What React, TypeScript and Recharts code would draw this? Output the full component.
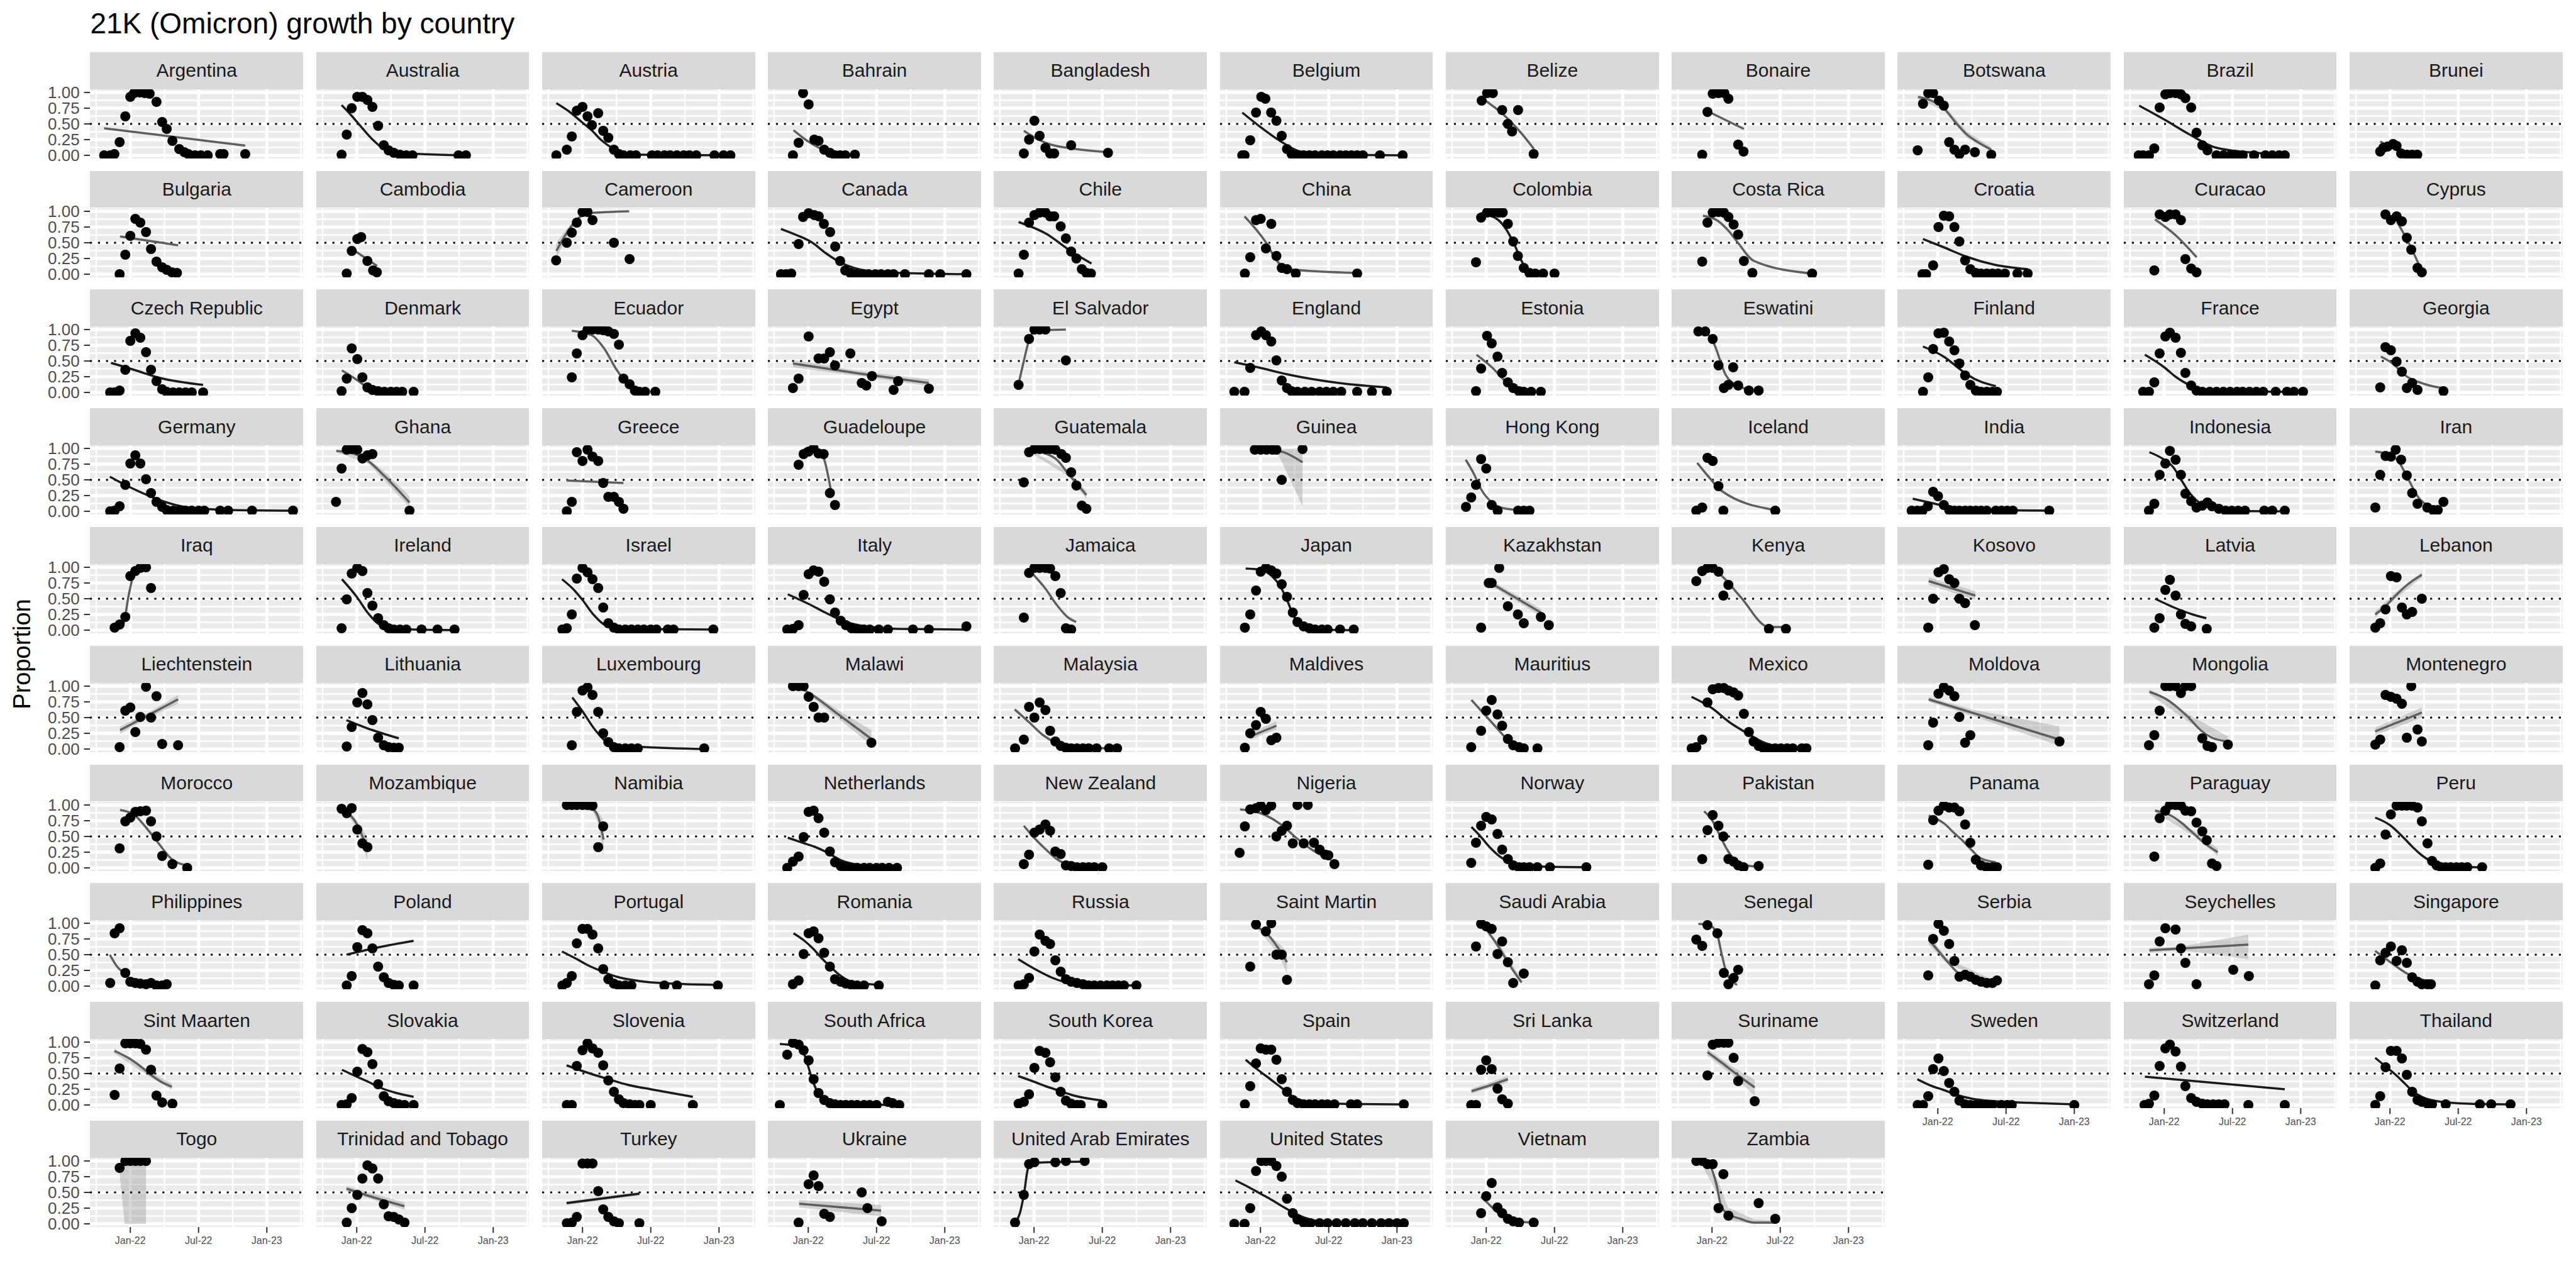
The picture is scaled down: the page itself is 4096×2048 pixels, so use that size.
import React from 'react';
import {
  ComposedChart,
  CartesianGrid,
  XAxis,
  YAxis,
  ReferenceLine,
  Scatter,
  Line,
  Area,
} from 'recharts';

/* ------------------------------------------------------------------ */
/*                               DATA                                 */
/* ------------------------------------------------------------------ */

// facet order, 11 per row
const countries = [
  'Argentina', 'Australia', 'Austria', 'Bahrain', 'Bangladesh', 'Belgium', 'Belize', 'Bonaire', 'Botswana', 'Brazil', 'Brunei',
  'Bulgaria', 'Cambodia', 'Cameroon', 'Canada', 'Chile', 'China', 'Colombia', 'Costa Rica', 'Croatia', 'Curacao', 'Cyprus',
  'Czech Republic', 'Denmark', 'Ecuador', 'Egypt', 'El Salvador', 'England', 'Estonia', 'Eswatini', 'Finland', 'France', 'Georgia',
  'Germany', 'Ghana', 'Greece', 'Guadeloupe', 'Guatemala', 'Guinea', 'Hong Kong', 'Iceland', 'India', 'Indonesia', 'Iran',
  'Iraq', 'Ireland', 'Israel', 'Italy', 'Jamaica', 'Japan', 'Kazakhstan', 'Kenya', 'Kosovo', 'Latvia', 'Lebanon',
  'Liechtenstein', 'Lithuania', 'Luxembourg', 'Malawi', 'Malaysia', 'Maldives', 'Mauritius', 'Mexico', 'Moldova', 'Mongolia', 'Montenegro',
  'Morocco', 'Mozambique', 'Namibia', 'Netherlands', 'New Zealand', 'Nigeria', 'Norway', 'Pakistan', 'Panama', 'Paraguay', 'Peru',
  'Philippines', 'Poland', 'Portugal', 'Romania', 'Russia', 'Saint Martin', 'Saudi Arabia', 'Senegal', 'Serbia', 'Seychelles', 'Singapore',
  'Sint Maarten', 'Slovakia', 'Slovenia', 'South Africa', 'South Korea', 'Spain', 'Sri Lanka', 'Suriname', 'Sweden', 'Switzerland', 'Thailand',
  'Togo', 'Trinidad and Tobago', 'Turkey', 'Ukraine', 'United Arab Emirates', 'United States', 'Vietnam', 'Zambia',
];

// x axis is months since 1 Jan 2022
const xTickValues = [0, 6, 12];
const xTickLabels = ['Jan-22', 'Jul-22', 'Jan-23'];
const xMinorValues = [-3, 3, 9, 15];
const yTickValues = [0, 0.25, 0.5, 0.75, 1];
const yMinorValues = [0.125, 0.375, 0.625, 0.875];

// observed proportions, flattened [month, proportion, month, proportion, ...]
const observed: number[][] = [
  [-2.3,0,-1.77,0,-1.4,0.02,-0.94,0.21,-0.44,0.62,0,0.93,0.33,0.99,0.83,1,1.27,0.99,1.7,0.98,2.3,0.85,2.8,0.53,3.2,0.42,3.7,0.23,4.3,0.1,4.75,0.05,5.1,0.02,5.7,0,6.2,0,6.8,0,7.9,0.02,8.2,0.02,10.1,0.02], // Argentina
  [-1.33,0.01,-0.88,0.33,-0.44,0.75,0.05,0.93,0.5,0.93,0.94,0.88,1.38,0.77,1.88,0.47,2.38,0.16,2.8,0.08,3.26,0.04,3.8,0.01,4.36,0,4.9,0,8.95,0,9.6,0], // Australia
  [-2.3,0,-1.38,0.09,-0.94,0.3,-0.5,0.71,0,0.77,0.44,0.62,0.83,0.48,1.38,0.67,1.82,0.39,2.27,0.28,2.76,0.09,3.2,0.02,3.6,0,4.2,0,4.7,0,6.1,0,6.6,0,7.2,0,7.7,0,8.3,0,8.9,0,9.4,0,10,0,11.6,0,12.4,0,13,0], // Austria
  [-1.35,0,-0.85,0.2,-0.46,0.99,0.03,0.81,0.53,0.25,0.9,0.23,1.4,0.09,1.9,0.04,2.35,0,2.8,0,3.25,0,4.1,0.01], // Bahrain
  [-0.9,0.03,-0.44,0.25,0.03,0.55,0.49,0.31,1,0.12,1.41,0.03,1.77,0.03,3.26,0.16,6.5,0.04], // Bangladesh
  [-1.6,0,-1.4,0,-0.9,0.24,-0.39,0.68,0.07,0.93,0.43,0.9,0.94,0.68,1.4,0.55,1.87,0.31,2.33,0.1,2.74,0.02,3.25,0,3.8,0,4.3,0,4.8,0,5.4,0,5.9,0,6.4,0,7,0,7.5,0,8,0,8.5,0,9,0,10.5,0,12.5,0], // Belgium
  [-0.4,0.87,0.07,0.99,0.58,0.99,1.4,0.72,2.8,0.72,1.9,0.5,2.27,0.38,4.17,0.02], // Belize
  [-0.86,0.01,-0.4,0.69,0.06,0.98,0.57,0.99,1.08,0.99,1.44,0.9,2.3,0.17,2.77,0.06], // Bonaire
  [-1.77,0.08,-1.3,0.82,-0.84,0.99,-0.41,0.99,0.1,0.87,0.53,0.79,1,0.21,1.46,0.09,1.9,0.02,2.4,0.09,3.26,0.05,4.7,0.01], // Botswana
  [-2.24,0,-1.85,0,-1.34,0,-0.87,0.11,-0.4,0.76,0.1,0.97,0.5,0.99,1,0.99,1.47,0.97,1.86,0.91,2.37,0.76,2.84,0.36,3.35,0.16,3.8,0.08,4.6,0,5.2,0,5.8,0,6.4,0,6.9,0,7.9,0,8.9,0,9.5,0,10.1,0,10.6,0], // Brazil
  [-0.86,0.06,-0.58,0.12,-0.2,0.14,0.27,0.18,0.58,0.15,0.98,0.03,1.5,0.01,1.95,0.01,2.4,0.01], // Brunei
  [-0.94,0,-0.44,0.31,0,0.61,0.44,0.88,0.88,0.82,1.38,0.67,1.82,0.4,2.3,0.2,2.8,0.11,3.2,0.07,3.65,0.03,4.1,0.02], // Bulgaria
  [-0.88,0.01,-0.44,0.37,0.05,0.56,0.39,0.59,0.94,0.21,1.44,0.06,1.77,0.03], // Cambodia
  [-2.32,0.22,-1.38,0.5,-0.94,0.66,-0.5,0.82,0,0.99,0.44,0.99,0.88,0.86,2.76,0.5,4.14,0.24], // Cameroon
  [-2.4,0,-1.95,0,-1.5,0.01,-0.85,0.48,-0.46,0.91,0.03,0.97,0.53,0.94,0.92,0.92,1.37,0.8,1.92,0.67,2.37,0.44,2.8,0.21,3.25,0.06,3.7,0.02,4.2,0,4.8,0,5.3,0,5.9,0,6.4,0,7,0,7.5,0,8.5,0,10.6,0,11.6,0,13.9,0], // Canada
  [-1.36,0.01,-0.9,0.31,-0.44,0.82,0.03,0.94,0.49,0.98,1,0.98,1.41,0.92,1.77,0.92,2.34,0.76,2.8,0.57,3.26,0.36,3.72,0.25,4.2,0.08,4.6,0.02,5,0.01], // Chile
  [-1.37,0.01,-0.9,0.27,-0.39,0.86,0.02,0.88,0.95,0.8,0.48,0.41,1.4,0.29,1.87,0.1,2.33,0.08,3.1,0.01,8.5,0.01], // China
  [-0.9,0.19,-0.45,0.9,0.07,0.98,0.58,0.98,1.1,0.98,1.45,0.98,1.9,0.8,2.37,0.52,2.78,0.29,3.3,0.1,3.8,0.02,4.3,0.01,5,0.01,6,0.01], // Colombia
  [-0.86,0.2,-0.4,0.82,0.06,0.98,0.57,0.99,1.04,0.98,1.44,0.91,1.9,0.79,2.3,0.63,2.8,0.21,3.55,0.02,8.8,0.01], // Costa Rica
  [-1.35,0,-1.03,0,-0.41,0.14,0.06,0.75,0.53,0.93,1,0.92,1.46,0.75,1.9,0.52,2.4,0.22,2.86,0.08,3.34,0.02,3.8,0.01,4.3,0.01,4.8,0.01,5.3,0.01,5.9,0.01,7,0.01,7.9,0.01], // Croatia
  [-0.87,0.06,-0.4,0.95,0.1,0.91,0.5,0.95,1,0.95,1.47,0.86,1.86,0.24,2.37,0.09,2.84,0.03], // Curacao
  [-0.4,0.95,0.08,0.86,0.58,0.92,1.05,0.84,1.48,0.58,1.87,0.39,2.42,0.1,2.8,0.03], // Cyprus
  [-1.77,0,-1.38,0,-0.94,0.03,-0.44,0.36,0,0.82,0.44,0.94,0.88,0.87,1.38,0.64,1.82,0.36,2.3,0.18,2.8,0.05,3.2,0.01,3.76,0,4.3,0,4.86,0,5.4,0,6.4,0], // Czech Republic
  [-1.33,0.02,-0.88,0.22,-0.44,0.7,0.05,0.53,0.5,0.24,0.94,0.08,1.38,0.04,1.88,0.02,2.43,0.01,3,0.01,3.5,0.01,4,0.01,5,0.01], // Denmark
  [-0.94,0.24,-0.5,0.62,0,0.91,0.44,1,0.88,1,1.38,1,1.82,0.99,2.27,0.97,2.76,0.93,3.2,0.76,3.6,0.22,4.14,0.13,4.6,0.03,5,0.01,5.5,0.01,6.4,0.01], // Ecuador
  [-1.35,0.07,-0.85,0.22,0.03,0.89,0.9,0.54,1.4,0.54,1.9,0.64,2.35,0.43,3.7,0.62,4.7,0.15,5.1,0.11,5.6,0.26,7.5,0.04,7.9,0.18,10.6,0.06], // Egypt
  [-1.36,0.12,-0.44,0.85,0.03,1,0.49,1,1,1,2.8,0.51], // El Salvador
  [-2.3,0.01,-1.4,0.01,-0.9,0.39,-0.39,0.91,0.07,0.97,0.48,0.91,0.95,0.81,1.4,0.51,1.87,0.19,2.33,0.07,2.74,0.02,3.25,0.01,3.9,0.01,4.5,0.01,5.2,0.01,5.8,0.01,6.4,0.01,7.1,0.01,8.5,0.01,9.8,0.01,11.1,0.01], // England
  [-0.9,0.02,-0.45,0.38,0.07,0.9,0.48,0.78,0.99,0.57,1.4,0.31,1.9,0.16,2.37,0.07,2.88,0.02,3.3,0.01,3.95,0.01,4.8,0.01], // Estonia
  [-1.2,0.97,-0.6,0.97,0.06,0.85,0.57,0.43,1.86,0.4,1.04,0.07,1.44,0.12,2.3,0.11,3.24,0.03,4.1,0.03], // Eswatini
  [-1.3,0.01,-0.84,0.24,-0.41,0.69,0.06,0.94,0.53,0.95,1,0.81,1.46,0.67,1.9,0.46,2.4,0.27,2.86,0.12,3.34,0.03,3.8,0.01,4.3,0.01,4.8,0.01,5.2,0.01], // Finland
  [-1.85,0.01,-1.34,0.01,-0.87,0.16,-0.4,0.62,0.1,0.89,0.5,0.95,1,0.87,1.47,0.63,1.86,0.31,2.37,0.11,2.84,0.03,3.35,0.01,4,0.01,4.6,0.01,5.2,0.01,5.8,0.01,6.4,0.01,6.9,0.01,7.5,0.01,8.1,0.01,8.7,0.01,9.8,0.01,10.8,0.01,11.4,0.01,12.2,0.01], // France
  [-0.86,0.08,-0.4,0.72,0.08,0.67,0.58,0.49,1.05,0.33,1.48,0.07,1.95,0.15,2.42,0.04,4.7,0.02], // Georgia
  [-1.77,0,-1.38,0.01,-0.94,0.08,-0.44,0.42,0,0.76,0.44,0.89,0.88,0.76,1.38,0.51,1.82,0.29,2.3,0.15,2.8,0.07,3.2,0.02,3.76,0.01,4.3,0.01,4.86,0.01,5.4,0.01,6,0.01,6.5,0.01,7.9,0.01,8.6,0.01,10.7,0.01,14.3,0.01], // Germany
  [-1.82,0.15,-1.33,0.68,-0.88,0.98,-0.44,0.99,0.05,0.98,0.5,0.84,0.94,0.89,1.38,0.91,4.64,0.01], // Ghana
  [-1.38,0,-0.94,0.15,-0.5,0.94,0,0.8,0.44,0.98,0.88,0.87,1.38,0.8,1.82,0.45,2.27,0.23,2.76,0.23,3.2,0.15,3.6,0.04], // Greece
  [-0.85,0.74,-0.41,0.91,0.03,0.95,0.47,1,0.9,0.92,1.35,0.91,1.9,0.29,2.35,0.1], // Guadeloupe
  [-0.9,0.46,-0.44,0.94,0.03,0.99,0.49,0.99,1,0.99,1.41,0.99,1.87,0.98,2.4,0.91,2.8,0.85,3.26,0.62,3.72,0.41,4.2,0.09,4.6,0.04], // Guatemala
  [-0.5,0.98,0.02,0.98,0.53,0.98,1.05,0.98,1.4,0.98,1.87,0.5,3.7,0.99], // Guinea
  [-1.78,0.07,-1.32,0.22,-0.9,0.42,-0.45,0.83,0,0.68,0.48,0.1,1,0.01,2.8,0.01,3.3,0.01,3.8,0.01], // Hong Kong
  [-1.38,0.01,-0.86,0.06,-0.4,0.85,0.06,0.8,0.57,0.4,1,0.01,5.56,0.01], // Iceland
  [-2.3,0.01,-1.8,0.01,-1.35,0.01,-0.88,0.08,-0.41,0.31,0.02,0.24,0.53,0.1,1,0.02,1.46,0.01,1.9,0.01,2.4,0.01,2.86,0.01,3.34,0.01,3.8,0.01,4.3,0.01,5.1,0.01,5.6,0.01,6.1,0.01,6.6,0.01,9.8,0.01], // India
  [-1.34,0.01,-0.87,0.12,-0.4,0.58,0.1,0.76,0.5,0.96,1,0.82,1.47,0.58,1.86,0.28,2.37,0.16,2.84,0.06,3.35,0.09,3.8,0.14,4.2,0.08,4.8,0.04,5.4,0.01,5.95,0.01,6.5,0.01,7.1,0.01,8.8,0.01,9.5,0.01,10.6,0.01], // Indonesia
  [-1.29,0.06,-0.86,0.58,-0.39,0.88,0.08,0.87,0.5,0.98,0.98,0.82,1.48,0.57,1.95,0.29,2.42,0.12,3.28,0.06,3.8,0.02,4.2,0.02,4.7,0.15], // Iran
  [-1.38,0.04,-0.94,0.09,-0.44,0.21,0,0.86,0.44,0.94,0.88,0.99,1.38,1,1.82,0.67], // Iraq
  [-1.33,0.03,-0.88,0.49,-0.44,0.9,0.05,0.99,0.5,0.94,0.94,0.59,1.38,0.39,1.88,0.19,2.38,0.08,2.8,0.03,3.26,0.01,3.8,0.01,4.36,0.01,5.7,0.01,7.1,0.01,8.6,0.01], // Ireland
  [-1.77,0.01,-1.38,0.03,-0.94,0.25,-0.5,0.82,0,0.99,0.44,0.92,0.88,0.81,1.38,0.67,1.82,0.36,2.27,0.11,2.76,0.04,3.2,0.01,3.76,0.01,4.3,0.01,4.86,0.01,5.4,0.01,6,0.01,6.5,0.01,7.5,0.01,8,0.01,11.5,0.01], // Israel
  [-1.85,0.01,-1.35,0.02,-0.85,0.08,-0.41,0.56,0.03,0.89,0.47,0.95,0.9,0.93,1.4,0.77,1.9,0.49,2.35,0.28,2.85,0.15,3.3,0.08,3.8,0.03,4.3,0.01,4.9,0.01,5.4,0.01,6.2,0.01,7,0.01,9.2,0.01,10.6,0.01,13.9,0.06], // Italy
  [-0.9,0.2,-0.44,0.91,0.03,0.99,0.49,0.99,1,0.99,1.41,0.98,1.87,0.86,2.34,0.59,2.8,0.03,3.26,0.01], // Jamaica
  [-1.37,0.04,-0.9,0.25,-0.39,0.63,0.02,0.93,0.48,0.99,0.95,0.95,1.4,0.9,1.87,0.73,2.33,0.53,2.84,0.28,3.25,0.13,3.8,0.06,4.3,0.03,4.8,0.01,5.4,0.01,5.9,0.01,7,0.01,8.2,0.01], // Japan
  [-0.45,0.04,0.22,0.75,0.48,0.75,1.14,0.99,1.9,0.38,2.78,0.25,3.3,0.11,4.8,0.21,5.5,0.08], // Kazakhstan
  [-1.38,0.78,-0.86,0.94,-0.4,0.99,0.06,0.99,0.57,0.93,1,0.55,1.44,0.72,5,0.02,6.5,0.02], // Kenya
  [-0.84,0.04,-0.41,0.5,0.06,0.92,0.53,0.97,1,0.81,1.46,0.75,1.9,0.5,2.4,0.43,3.26,0.08], // Kosovo
  [-0.87,0.04,-0.4,0.19,0.1,0.64,0.5,0.8,1,0.55,1.47,0.25,1.86,0.1,2.37,0.06,3.74,0.02], // Latvia
  [-1.29,0.04,-0.86,0.11,-0.39,0.33,0.08,0.86,0.58,0.84,1.05,0.36,1.48,0.25,1.95,0.29,2.8,0.5], // Lebanon
  [-0.94,0.03,-0.44,0.61,0,0.66,0.44,0.27,0.88,0.51,1.38,0.99,1.82,0.5,2.3,0.84,2.8,0.08,4.2,0.06], // Liechtenstein
  [-0.88,0.04,-0.44,0.35,0.05,0.74,0.5,0.89,0.94,0.71,1.38,0.46,1.88,0.18,2.38,0.06,2.8,0.03,3.26,0.02,3.7,0.02], // Lithuania
  [-0.94,0.06,-0.5,0.59,0,0.93,0.44,0.98,0.88,0.86,1.38,0.59,1.82,0.25,2.27,0.11,2.76,0.03,3.2,0.01,3.76,0.01,4.3,0.01,4.86,0.01,10.7,0.01], // Luxembourg
  [-1.35,1,-0.85,1,-0.41,1,0.03,0.83,0.47,0.67,0.9,0.5,1.4,0.5,5.55,0.1], // Malawi
  [-1.67,0.01,-0.9,0.15,-0.44,0.67,0.03,0.5,0.49,0.74,1,0.62,1.41,0.29,1.87,0.12,2.34,0.05,2.8,0.02,3.26,0.01,3.77,0.01,4.3,0.01,4.8,0.01,5.5,0.01,6.6,0.01,7.3,0.01], // Malaysia
  [-1.37,0.02,-0.9,0.25,-0.39,0.38,0.02,0.59,0.48,0.48,0.95,0.14,1.4,0.18], // Maldives
  [-1.32,0.03,-0.45,0.29,0,0.61,0.48,0.78,0.99,0.55,1.4,0.37,1.9,0.16,2.37,0.06,2.88,0.03,3.3,0.01,4.5,0.01], // Mauritius
  [-1.79,0.01,-1.38,0.03,-0.86,0.15,-0.4,0.74,0.06,0.95,0.57,0.97,1.04,0.97,1.44,0.93,1.9,0.9,2.3,0.85,2.8,0.56,3.24,0.27,3.65,0.12,4.1,0.05,4.5,0.02,5,0.01,5.55,0.01,6.06,0.01,6.6,0.01,7.1,0.01,7.9,0.01,8.3,0.01], // Mexico
  [-0.84,0.06,-0.41,0.42,0.06,0.88,0.53,0.98,1,0.93,1.46,0.84,1.9,0.51,2.4,0.1,2.86,0.22,10.7,0.12], // Moldova
  [-1.34,0.06,-0.87,0.22,-0.4,0.61,0.1,1,0.5,1,1,1,1.47,0.89,1.86,1,2.37,1,3.35,0.17,3.8,0.05,4.2,0.03,5.6,0.07], // Mongolia
  [-1.29,0.07,-0.86,0.15,-0.39,0.86,0.08,0.83,0.58,0.8,1.05,0.72,1.48,0.18,1.87,1,2.42,0.31,2.8,0.12], // Montenegro
  [-0.94,0.31,-0.44,0.74,0,0.8,0.44,0.89,0.88,0.9,1.38,0.91,1.82,0.74,2.3,0.5,2.8,0.19,3.7,0.06,5,0], // Morocco
  [-1.33,0.94,-0.88,0.87,-0.44,0.95,0.05,0.61,0.5,0.39,0.94,0.33], // Mozambique
  [-1.38,1,-0.94,1,-0.5,1,0,1,0.44,1,0.88,0.99,1.82,0.66,1.38,0.33], // Namibia
  [-1.85,0,-1.35,0.1,-0.85,0.18,-0.41,0.49,0.03,0.89,0.47,0.91,0.9,0.79,1.4,0.56,1.9,0.26,2.35,0.09,2.85,0.03,3.3,0.01,3.8,0,4.3,0,4.9,0,5.4,0,6,0,6.5,0,7.1,0,7.8,0], // Netherlands
  [-0.9,0.06,-0.44,0.21,0.03,0.56,0.49,0.61,1,0.69,1.41,0.59,1.87,0.26,2.34,0.22,2.8,0.04,3.26,0.03,3.77,0.01,4.3,0.01,4.8,0.01,5.3,0.01,6,0.01], // New Zealand
  [-1.83,0.24,-1.37,0.66,-0.9,0.93,-0.39,0.95,0.02,0.99,0.48,0.92,0.95,0.99,1.4,0.5,1.87,0.59,2.33,0.67,2.84,0.39,3.25,1,3.8,0.39,4.16,1,4.7,0.4,5.2,0.29,5.7,0.21,5.97,0.2,6.5,0.06], // Nigeria
  [-1.32,0.08,-0.9,0.4,-0.45,0.67,0,0.81,0.48,0.77,0.99,0.54,1.4,0.29,1.9,0.14,2.37,0.04,2.88,0.01,3.3,0.01,3.8,0.01,4.5,0.01,5.6,0.01,8.8,0.01], // Norway
  [-0.86,0.14,-0.4,0.6,0.06,0.84,0.57,0.67,1,0.5,1.44,0.14,1.9,0.1,2.3,0.04,2.77,0.01,4.1,0.03], // Pakistan
  [-0.84,0.05,-0.41,0.76,0.06,0.91,0.53,0.99,1,0.96,1.46,0.96,1.9,0.9,2.4,0.69,2.86,0.4,3.34,0.13,3.8,0.04,4.3,0.01,4.8,0.01,5.2,0.01], // Panama
  [-0.87,0.18,-0.4,0.79,0.1,0.91,0.5,1,1,1,1.47,0.99,1.86,0.91,2.37,0.9,2.84,0.72,3.35,0.58,3.74,0.44,4.2,0.07,4.6,0.03], // Paraguay
  [-1.29,0,-0.86,0.07,-0.39,0.53,0.08,0.85,0.58,0.99,1.05,0.99,1.48,0.99,1.95,0.99,2.42,0.96,2.8,0.74,3.3,0.39,3.7,0.11,4.1,0.04,4.5,0.01,4.9,0.01,5.35,0.01,5.85,0.01,6.3,0.01,6.8,0.01,8.1,0.01], // Peru
  [-1.77,0.05,-1.38,0.84,-0.94,0.92,-0.44,0.21,0,0.07,0.44,0.05,0.88,0.04,1.38,0.03,1.82,0.05,2.3,0.01,2.8,0.01,3.2,0.03], // Philippines
  [-0.88,0.01,-0.44,0.16,0.05,0.62,0.5,0.89,0.94,0.84,1.38,0.6,1.88,0.31,2.38,0.14,2.8,0.05,3.26,0.02,3.7,0.01,5,0.01], // Poland
  [-1.77,0.01,-1.38,0.05,-0.94,0.16,-0.5,0.68,0,0.91,0.44,0.91,0.88,0.82,1.38,0.6,1.82,0.27,2.27,0.11,2.76,0.04,3.2,0.01,3.76,0.01,4.3,0.01,7.2,0.01,8.3,0.01,11.9,0.01], // Portugal
  [-1.35,0.03,-0.85,0.09,-0.41,0.51,0.03,0.84,0.47,0.87,0.9,0.76,1.4,0.53,1.9,0.31,2.35,0.11,2.85,0.07,3.3,0.04,3.8,0.02,4.3,0.01,4.9,0.01,6.2,0.01], // Romania
  [-1.36,0.01,-0.9,0.03,-0.44,0.13,0.03,0.55,0.49,0.82,1,0.72,1.41,0.67,1.87,0.41,2.34,0.23,2.8,0.11,3.26,0.07,3.77,0.05,4.3,0.03,4.8,0.01,5.3,0.01,5.85,0.01,6.4,0.01,6.9,0.01,7.4,0.01,7.9,0.01,9,0.01], // Russia
  [-0.9,0.31,-0.39,0.98,0.48,0.87,0.95,1,1.4,0.5,1.87,0.5,2.33,0.1], // Saint Martin
  [-0.9,0.63,-0.45,0.99,0,0.95,0.48,0.91,1.4,0.71,0.99,0.51,1.9,0.38,3.3,0.2,2.37,0.05], // Saudi Arabia
  [-1.38,0.74,-0.86,0.64,-0.4,0.97,0.47,0.84,1.04,0.21,1.44,0.03,1.9,0.13,2.3,0.26], // Senegal
  [-0.84,0.17,-0.41,0.75,0.06,0.99,0.53,0.88,1,0.67,1.46,0.4,1.9,0.15,2.4,0.18,2.86,0.15,3.34,0.1,3.8,0.07,4.3,0.05,4.8,0.05,5.2,0.09], // Serbia
  [-1.34,0.03,-0.87,0.17,-0.4,0.71,0.1,0.92,1,0.9,1.47,0.6,1.86,0.37,2.84,0.03,6.07,0.26,7.44,0.16], // Seychelles
  [-1.29,0.01,-0.86,0.41,-0.39,0.53,0.08,0.63,0.58,0.4,1.05,0.57,1.48,0.37,1.95,0.14,2.42,0.07,2.8,0.03,3.3,0.03,3.6,0.03], // Singapore
  [-1.38,0.16,-0.94,0.58,-0.44,0.98,0,0.98,0.44,0.98,0.88,0.97,1.38,0.88,1.82,0.56,2.3,0.15,2.8,0.04,3.7,0.02], // Sint Maarten
  [-1.33,0,-0.88,0.01,-0.44,0.11,0.05,0.53,0.5,0.89,0.94,0.84,1.38,0.65,1.88,0.33,2.38,0.14,2.8,0.06,3.26,0.03,3.7,0.01,4.2,0,5,0], // Slovakia
  [-1.38,0,-0.94,0,-0.5,0.62,0,0.87,0.44,0.98,0.88,0.9,1.38,0.83,1.82,0.63,2.27,0.39,2.76,0.21,3.2,0.09,3.6,0.03,4.14,0.01,4.6,0,5,0,6,0,9.7,0], // Slovenia
  [-2.5,0,-1.85,0.8,-1.35,0.99,-0.85,0.96,-0.41,0.87,0.03,0.71,0.47,0.41,0.9,0.19,1.4,0.08,1.9,0.03,2.35,0.01,2.85,0,3.3,0,3.8,0,4.3,0,4.9,0,5.4,0,6,0,7,0.05,7.4,0.03,8,0], // South Africa
  [-1.36,0.02,-0.9,0.05,-0.44,0.17,0.03,0.59,0.49,0.86,1,0.83,1.41,0.68,1.87,0.44,2.34,0.21,2.8,0.07,3.26,0.02,3.77,0,4.1,0,6,0], // South Korea
  [-1.37,0.01,-0.9,0.3,-0.39,0.66,0.02,0.9,0.48,0.88,0.95,0.88,1.4,0.72,1.87,0.41,2.33,0.21,2.84,0.08,3.25,0.03,3.8,0.01,4.3,0.01,4.8,0.01,5.4,0.01,5.9,0.01,6.5,0.01,7.95,0.01,8.5,0.01,12.6,0.01], // Spain
  [-1.32,0,-0.9,0,-0.45,0.56,0,0.71,0.48,0.57,0.99,0.26,1.4,0.09,1.9,0.02], // Sri Lanka
  [-0.4,0.47,0.06,0.96,0.57,0.99,1.04,0.99,1.44,0.99,1.9,0.75,2.3,0.38,3.75,0.06], // Suriname
  [-1.77,0,-1.3,0,-0.84,0.14,-0.41,0.57,0.06,0.74,0.53,0.54,1,0.35,1.46,0.21,1.9,0.07,2.4,0.01,2.86,0,3.34,0,3.8,0,4.3,0,4.8,0,5.6,0,6.1,0,6.5,0,12,0], // Sweden
  [-1.73,0,-1.34,0.02,-0.87,0.15,-0.4,0.62,0.1,0.9,0.5,0.96,1,0.85,1.47,0.61,1.86,0.3,2.37,0.11,2.84,0.05,3.35,0.02,3.8,0.01,4.3,0.01,4.8,0.01,5.3,0.01,7.4,0,10.6,0], // Switzerland
  [-1.29,0,-0.86,0.14,-0.39,0.6,0.08,0.86,0.58,0.86,1.05,0.74,1.48,0.48,1.95,0.21,2.42,0.08,2.8,0.05,3.3,0.02,3.7,0.01,4.9,0.01,7.9,0.01,8.9,0.01,10.6,0.01], // Thailand
  [-0.94,0.89,-0.44,1,0,1,0.44,1,0.88,1,1.38,1], // Togo
  [-0.88,0.02,-0.44,0.25,0.05,0.46,0.5,0.72,0.94,0.93,1.38,0.88,1.88,0.72,2.38,0.31,2.8,0.12,3.26,0.11,3.7,0.07,4.2,0.02], // Trinidad and Tobago
  [-1.38,0.01,-0.94,0.02,-0.5,0.11,0,0.96,0.44,0.96,0.88,0.96,1.38,0.52,1.82,0.23,2.27,0.11,2.76,0.04,3.2,0.01,5,0.01], // Turkey
  [-0.85,0.02,0.03,0.63,0.47,0.77,0.9,0.6,1.4,0.16,1.9,0.11,4.7,0.5,5.2,0.25,6.45,0.04], // Ukraine
  [-1.67,0.02,-0.9,0.46,-0.44,0.95,0.03,0.98,1.87,0.98,2.8,1,4.45,1], // United Arab Emirates
  [-2.3,0,-1.4,0,-0.9,0.25,-0.39,0.84,0.07,1,0.48,1,0.95,1,1.4,0.92,1.87,0.75,2.33,0.4,2.84,0.17,3.25,0.07,3.8,0.02,4.4,0.01,5.2,0.01,5.9,0.01,6.7,0.01,7.5,0.01,8.3,0.01,9,0.01,9.8,0.01,10.6,0.01,11.3,0.01,12,0.01,12.6,0.01], // United States
  [-0.45,0.17,0,0.44,0.48,0.65,0.99,0.26,1.4,0.17,1.9,0.08,2.37,0.04,2.88,0.02,4.17,0.02], // Vietnam
  [-1.38,1,-0.86,1,-0.4,0.95,0.06,0.95,1,0.79,0.57,0.25,1.44,0.13,4.1,0.33,5.56,0.08], // Zambia
];

// fitted smooth curves, flattened [month, fit, ...]
const fitted: number[][] = [
  [-2.3,0.43,4,0.29,10.1,0.155], // Argentina
  [-1.33,0.8,-0.4,0.62,0.5,0.43,1.4,0.25,2.4,0.1,3.5,0.04,9.6,0], // Australia
  [-2.3,0.83,-1.2,0.7,0,0.52,0.8,0.4,1.6,0.25,2.76,0.1,3.6,0.03,5,0.01,13,0], // Austria
  [-1.3,0.4,0,0.22,1.5,0.08,4,0.01], // Bahrain
  [-0.9,0.39,0.5,0.24,1.5,0.17,3.3,0.11,6.5,0.05], // Bangladesh
  [-1.6,0.68,0,0.45,1.8,0.22,3.5,0.06,6,0.01,12.5,0], // Belgium
  [-0.4,0.91,1.5,0.65,3,0.37,4.2,0.1], // Belize
  [-0.6,0.72,2.8,0.42], // Bonaire
  [-1.74,0.93,-0.57,0.87,0.53,0.75,1.58,0.52,2.56,0.33,3.34,0.23,4.7,0.09], // Botswana
  [-2.2,0.79,0.1,0.56,2.25,0.33,4.6,0.12,8.1,0.04,10.6,0.01], // Brazil
  [-0.86,0.22,0.8,0.06], // Brunei
  [-0.9,0.6,4.2,0.46], // Bulgaria
  [-0.4,0.4,1.8,0.13], // Cambodia
  [-2.3,0.37,-1.4,0.65,-0.5,0.87,0.5,0.97,4.1,1], // Cameroon
  [-2.4,0.72,-1,0.62,0.37,0.5,1.5,0.34,2.6,0.21,4,0.1,5.3,0.05,8,0.02,13.9,0], // Canada
  [-1.36,0.83,1.1,0.64,3.2,0.37,5.05,0.17], // Chile
  [-1.4,0.92,0.5,0.5,1.5,0.2,2.5,0.08,8.5,0.02], // China
  [-0.5,0.97,1,0.87,1.8,0.7,2.4,0.5,3.3,0.15,4.3,0.03], // Colombia
  [-0.8,0.93,0.5,0.85,1.5,0.68,2.2,0.52,3.7,0.21,8.8,0.01], // Costa Rica
  [-1.3,0.56,0.5,0.43,2.5,0.28,5,0.15,7.9,0.08], // Croatia
  [-0.8,0.87,1,0.62,2.85,0.27], // Curacao
  [0.6,0.84,1.5,0.55,2.8,0.05], // Cyprus
  [-1.7,0.47,0.5,0.35,2.4,0.24,6.4,0.12], // Czech Republic
  [-1.3,0.35,0,0.2,0.9,0.08], // Denmark
  [-0.94,0.98,0.8,0.91,1.9,0.7,3,0.36,4.1,0.11,5.2,0.03], // Ecuador
  [-1.35,0.46,4.5,0.3,10.6,0.15], // Egypt
  [-1.36,0.14,-0.9,0.5,-0.44,0.83,0.1,0.98,2.8,1], // El Salvador
  [-2.3,0.48,0,0.39,2.3,0.29,6.9,0.15,11.1,0.08], // England
  [-0.85,0.6,0.5,0.4,1.8,0.16,3,0.05,4,0.02], // Estonia
  [-0.5,0.96,0.16,0.78,1.2,0.28,2.2,0.11,3.2,0.05], // Eswatini
  [-1.3,0.73,0.6,0.56,1.6,0.42,2.6,0.28,5.1,0.1], // Finland
  [-1.7,0.6,0,0.4,1,0.25,2.2,0.12,4,0.04,7,0.015,12.2,0.01], // France
  [-0.8,0.57,0.3,0.45,1.2,0.29,3.1,0.13,4.6,0.07], // Georgia
  [-1.8,0.55,0,0.38,1.2,0.28,2.4,0.19,5.1,0.06,9,0.02,14.3,0.01], // Germany
  [-1.8,0.96,-0.3,0.92,1,0.8,2.5,0.55,4.64,0.14], // Ghana
  [-1.4,0.49,3.6,0.45], // Greece
  [-0.4,0.99,0.9,0.95,1.35,0.85,2,0.32], // Guadeloupe
  [-0.5,0.97,1,0.92,2,0.82,3,0.6,4.6,0.26], // Guatemala
  [-0.5,0.98,1.5,0.96,3.7,0.78], // Guinea
  [-1.8,0.82,-1.1,0.6,-0.45,0.35,0.5,0.14,1.5,0.05,3.5,0.01], // Hong Kong
  [-1.3,0.77,-0.3,0.55,0.8,0.33,5.5,0.02], // Iceland
  [-2.2,0.2,-0.5,0.13,1,0.07,3,0.03,9.8,0.01], // India
  [-1.3,0.94,0,0.82,0.8,0.7,1.5,0.5,2.2,0.3,2.8,0.18,4,0.06,6,0.01,10.6,0], // Indonesia
  [-1.3,0.95,0,0.9,0.8,0.78,1.5,0.55,2.5,0.22,3.5,0.08,4.2,0.05], // Iran
  [-1.3,0.01,-0.6,0.1,-0.2,0.5,0.3,0.88,0.9,0.98,1.82,1], // Iraq
  [-1.3,0.81,0,0.53,1,0.27,2,0.09,3.5,0.02,8.6,0], // Ireland
  [-1.8,0.81,-0.8,0.65,0,0.48,1,0.24,2,0.08,3.5,0.02,11.5,0.01], // Israel
  [-1.8,0.57,0,0.42,1.5,0.28,3,0.15,5,0.06,8,0.02,13.9,0.01], // Italy
  [-0.2,0.91,1,0.66,2,0.4,3,0.2,3.7,0.13], // Jamaica
  [-1.3,0.98,0,0.96,1,0.86,1.8,0.68,2.4,0.45,3,0.2,4,0.05,5,0.01,8.2,0], // Japan
  [0.2,0.77,4.8,0.28], // Kazakhstan
  [-0.6,0.99,0.6,0.9,2.5,0.53,5,0.05,6.5,0.05], // Kenya
  [-0.8,0.78,3.3,0.55], // Kosovo
  [-0.8,0.5,1,0.35,2.5,0.25,3.7,0.19], // Latvia
  [-1.3,0.25,-0.4,0.38,0.5,0.55,1.5,0.72,2.8,0.88], // Lebanon
  [-0.9,0.3,4.2,0.79], // Liechtenstein
  [-0.9,0.46,1.4,0.3,3.7,0.17], // Lithuania
  [-0.9,0.82,0,0.6,1,0.33,2,0.13,3,0.06,10.7,0], // Luxembourg
  [-0.8,0.98,0,0.9,2.8,0.53,5.55,0.16], // Malawi
  [-1.7,0.63,-0.4,0.42,0.8,0.22,1.9,0.1,3.3,0.03,7.3,0.01], // Malaysia
  [-0.9,0.2,1.4,0.37], // Maldives
  [-1.3,0.78,-0.3,0.58,0.7,0.38,1.6,0.2,2.6,0.07,3.5,0.02], // Mauritius
  [-1.8,0.83,0,0.65,1.5,0.43,3.2,0.24,4.5,0.11,6,0.04,8.3,0.02], // Mexico
  [-0.8,0.79,10.7,0.15], // Moldova
  [-1.3,0.91,0.3,0.78,1.3,0.64,2.25,0.48,3.2,0.3,4.2,0.18,5.6,0.12], // Mongolia
  [-1.3,0.28,2.8,0.58], // Montenegro
  [-0.9,0.92,0.3,0.85,1.3,0.66,2.4,0.41,3.7,0.13,5,0.04], // Morocco
  [-0.9,0.9,0,0.7,0.94,0.3], // Mozambique
  [-1.4,0.99,0.9,0.93,1.4,0.8,1.85,0.45], // Namibia
  [-1.8,0.48,-0.5,0.4,0.5,0.34,1.5,0.26,2.9,0.12,5,0.04,7.9,0.02], // Netherlands
  [-0.9,0.67,0,0.48,1,0.3,2,0.14,2.8,0.06], // New Zealand
  [-1.8,0.93,0,0.87,1.8,0.69,3.2,0.47,4.6,0.28,6.2,0.13], // Nigeria
  [-1.3,0.65,-0.5,0.5,0.3,0.33,1.2,0.18,2.2,0.08,3.5,0.03,8.8,0.01], // Norway
  [-0.7,0.9,0,0.76,0.6,0.55,1.3,0.3,2,0.12,3,0.04,4.1,0.02], // Pakistan
  [-0.8,0.83,0.6,0.7,1.4,0.56,2.2,0.43,3,0.28,3.7,0.16,5.1,0.09], // Panama
  [-0.8,0.91,0.5,0.84,1.5,0.72,2.5,0.56,3.5,0.4,4.7,0.25], // Paraguay
  [-1.3,0.8,0,0.68,1.2,0.48,2,0.33,2.8,0.2,3.9,0.08,5.5,0.02,8.1,0.01], // Peru
  [-1.8,0.5,-1.2,0.32,-0.4,0.19], // Philippines
  [-0.9,0.5,2,0.62,5,0.72], // Poland
  [-1.8,0.55,-0.5,0.43,0.5,0.33,1.5,0.25,3,0.15,5,0.08,8,0.04,11.9,0.02], // Portugal
  [-1.3,0.84,-0.4,0.73,0.4,0.6,1.2,0.44,2,0.3,2.8,0.17,3.8,0.07,6.2,0.02], // Romania
  [-1.4,0.43,-0.4,0.32,0.6,0.22,1.5,0.14,2.8,0.06,4.5,0.02,9,0.01], // Russia
  [-0.4,0.95,0.6,0.83,1.5,0.62,2.33,0.38], // Saint Martin
  [-0.3,0.97,1,0.65,2,0.35,3.1,0.06], // Saudi Arabia
  [-1.2,0.99,-0.4,0.98,0.4,0.86,0.8,0.55,1.3,0.2,2.2,0.02], // Senegal
  [-0.8,0.74,0,0.57,0.8,0.4,1.6,0.24,2.6,0.12,3.8,0.06,5.2,0.04], // Serbia
  [-1.3,0.57,7.4,0.66], // Seychelles
  [-1.3,0.56,-0.4,0.44,0.5,0.32,1.5,0.2,2.5,0.12,3.5,0.08], // Singapore
  [-1.4,0.86,0,0.73,1,0.6,1.8,0.48,2.8,0.36,3.65,0.29], // Sint Maarten
  [-1.3,0.56,0,0.45,1,0.37,2,0.28,3.5,0.19,5,0.13], // Slovakia
  [-1.4,0.63,0.5,0.51,2.3,0.41,4,0.32,6,0.25,9.7,0.13], // Slovenia
  [-2.5,0.97,-1.5,0.95,-0.7,0.9,-0.3,0.78,0.1,0.55,0.5,0.33,0.9,0.18,1.5,0.06,2.2,0.02,8,0], // South Africa
  [-1.4,0.46,0,0.37,1,0.3,2,0.24,3.5,0.15,6,0.07], // South Korea
  [-1.3,0.72,-0.3,0.57,0.8,0.42,1.8,0.28,3,0.12,4.5,0.04,7,0.02,12.6,0.01], // Spain
  [-1.3,0.22,0.3,0.31,1.9,0.41], // Sri Lanka
  [-0.4,0.84,0.8,0.68,2.3,0.47,3.75,0.28], // Suriname
  [-1.8,0.41,-0.5,0.3,0.5,0.24,1.5,0.17,3,0.1,5,0.06,8,0.035,12,0.01], // Sweden
  [-1.7,0.45,4.5,0.35,10.6,0.25], // Switzerland
  [-1.3,0.75,-0.3,0.6,0.5,0.48,1.2,0.36,2,0.22,2.8,0.13,4.5,0.05,7,0.02,10.6,0.01], // Thailand
  [-0.94,0.91,-0.5,0.99,1.38,1], // Togo
  [-0.9,0.56,1.5,0.42,4.2,0.28], // Trinidad and Tobago
  [-1.4,0.33,5,0.48], // Turkey
  [-0.8,0.32,6.4,0.21], // Ukraine
  [-1.67,0.01,-1.2,0.2,-0.9,0.46,-0.5,0.9,0,0.97,4.45,0.99], // United Arab Emirates
  [-2.2,0.69,-1,0.58,0,0.48,1,0.38,2,0.27,3,0.17,4,0.09,5.5,0.03,8,0.01,12.6,0], // United States
  [-0.45,0.43,0.3,0.3,1,0.18,1.8,0.1,2.8,0.04,4.17,0.02], // Vietnam
  [-1,0.99,-0.2,0.92,0.4,0.62,0.8,0.28,1.4,0.16,2.5,0.08,3.7,0.02,5.5,0.02], // Zambia
];

// visible confidence bands, flattened [month, lower, upper, ...]
const bandCountries = [
  'Cameroon', 'Botswana', 'Egypt', 'Ghana', 'Guinea', 'Guatemala', 'Kazakhstan', 'Kosovo', 'Lebanon',
  'Liechtenstein', 'Malawi', 'Maldives', 'Moldova', 'Mongolia', 'Montenegro', 'Mozambique', 'Namibia',
  'Paraguay', 'Saint Martin', 'Saudi Arabia', 'Serbia', 'Seychelles', 'Sint Maarten', 'Sri Lanka',
  'Suriname', 'Togo', 'Trinidad and Tobago', 'Turkey', 'Ukraine', 'Zambia',
];
const bandValues: number[][] = [
  [-2.3,0.25,0.5,-1.4,0.58,0.72,-0.5,0.84,0.9,0.5,0.96,0.99,4.1,0.99,1], // Cameroon
  [-1.74,0.9,0.96,0.53,0.71,0.79,2.56,0.28,0.38,4.7,0.06,0.13], // Botswana
  [-1.35,0.4,0.52,4.5,0.26,0.34,10.6,0.1,0.21], // Egypt
  [-1.8,0.94,0.98,1,0.76,0.84,2.5,0.48,0.62,4.64,0.06,0.24], // Ghana
  [-0.5,0.97,0.99,1.5,0.93,0.99,3.7,0.08,1], // Guinea
  [-0.5,0.95,0.99,3,0.56,0.64,4.6,0.2,0.32], // Guatemala
  [0.2,0.73,0.81,4.8,0.22,0.34], // Kazakhstan
  [-0.8,0.72,0.84,3.3,0.48,0.62], // Kosovo
  [-1.3,0.2,0.3,0.5,0.5,0.6,2.8,0.84,0.92], // Lebanon
  [-0.9,0.24,0.36,1.6,0.5,0.58,4.2,0.72,0.86], // Liechtenstein
  [-0.8,0.97,0.99,0,0.87,0.93,2.8,0.46,0.6,5.55,0.06,0.3], // Malawi
  [-0.9,0.15,0.26,1.4,0.31,0.44], // Maldives
  [-0.8,0.75,0.83,3,0.53,0.63,10.7,0.05,0.36], // Moldova
  [-1.3,0.87,0.95,2.25,0.42,0.54,5.6,0.06,0.2], // Mongolia
  [-1.3,0.22,0.34,2.8,0.5,0.66], // Montenegro
  [-0.9,0.86,0.94,0,0.64,0.76,0.94,0.12,0.48], // Mozambique
  [-1.4,0.98,1,0.9,0.9,0.96,1.4,0.7,0.88,1.85,0.18,0.75], // Namibia
  [-0.8,0.88,0.94,2.5,0.52,0.6,4.7,0.19,0.31], // Paraguay
  [-0.4,0.93,0.97,1.5,0.54,0.7,2.33,0.2,0.55], // Saint Martin
  [-0.3,0.95,0.99,1,0.6,0.7,3.1,0.02,0.12], // Saudi Arabia
  [-0.8,0.66,0.82,0.8,0.36,0.44,5.2,0.02,0.07], // Serbia
  [-1.3,0.53,0.61,1.5,0.57,0.63,7.4,0.43,0.82], // Seychelles
  [-1.4,0.82,0.9,1.8,0.44,0.52,3.65,0.24,0.34], // Sint Maarten
  [-1.3,0.18,0.26,1.9,0.36,0.46], // Sri Lanka
  [-0.4,0.78,0.9,1.5,0.52,0.64,3.75,0.15,0.4], // Suriname
  [-0.94,0.8,0.96,-0.5,0,1,1.38,0,1], // Togo
  [-0.9,0.52,0.6,4.2,0.22,0.34], // Trinidad and Tobago
  [-1.4,0.3,0.36,5,0.45,0.51], // Turkey
  [-0.8,0.26,0.38,6.4,0.12,0.3], // Ukraine
  [-1,0.97,1,0.4,0.5,0.74,1.4,0.06,0.26,3.7,0,0.07,5.5,0,0.05], // Zambia
];

// fits that render near-black in the original (the rest are mid grey)
const darkFits = [
  'Australia', 'Austria', 'Belgium', 'Brazil', 'Canada', 'Chile', 'Colombia', 'Croatia', 'Czech Republic',
  'England', 'Finland', 'France', 'Germany', 'India', 'Indonesia', 'Ireland', 'Israel', 'Italy', 'Japan',
  'Latvia', 'Lithuania', 'Luxembourg', 'Mexico', 'Netherlands', 'Norway', 'Peru', 'Poland', 'Portugal',
  'Romania', 'Russia', 'Slovakia', 'Slovenia', 'South Africa', 'South Korea', 'Spain', 'Sweden',
  'Switzerland', 'Thailand', 'Turkey', 'United Arab Emirates', 'United States',
];

/* ------------------------------------------------------------------ */
/*                              LAYOUT                                */
/* ------------------------------------------------------------------ */

const NCOL = 11;
const L = {
  panelLeft: 143.4,
  colPitch: 359.25,
  panelW: 338.8,
  stripTop: 82.8,
  rowPitch: 188.8,
  stripH: 58.9,
  panelH: 110,
  yAxisW: 92,
  xAxisH: 40,
  labelPad: 18, // room above/below the plot so the 1.00 / 0.00 labels are not cut
};
const X_DOMAIN: [number, number] = [-3.55, 15.18];
const Y_DOMAIN: [number, number] = [-0.05, 1.05];
const FONT = '"Liberation Sans", Arial, Helvetica, sans-serif';

const toPoints = (flat: number[]) => {
  const out: { x: number; y: number }[] = [];
  for (let i = 0; i < flat.length; i += 2) out.push({ x: flat[i], y: flat[i + 1] });
  return out;
};

const toBand = (flat: number[]) => {
  const out: { x: number; band: [number, number] }[] = [];
  for (let i = 0; i < flat.length; i += 3) out.push({ x: flat[i], band: [flat[i + 1], flat[i + 2]] });
  return out;
};

const renderDot = (p: any) => <circle cx={p.cx} cy={p.cy} r={8} fill="#000000" />;

function Panel({ index }: { index: number }) {
  const name = countries[index];
  const row = Math.floor(index / NCOL);
  const col = index % NCOL;
  const showY = col === 0;
  const showX = index + NCOL >= countries.length; // last panel in its column
  const left = L.panelLeft + col * L.colPitch;
  const stripTop = L.stripTop + row * L.rowPitch;

  // extra room for y labels that stick out of the plot area
  const padTop = showY ? L.labelPad : 0;
  const padBottom = showY && !showX ? L.labelPad : 0;

  const points = toPoints(observed[index]);
  const fit = toPoints(fitted[index]);
  const bi = bandCountries.indexOf(name);
  const band = bi >= 0 ? toBand(bandValues[bi]) : null;
  const lineColor = darkFits.includes(name) ? '#1A1A1A' : '#5E5E5E';

  return (
    <>
      {/* facet strip */}
      <div
        style={{
          position: 'absolute', left, top: stripTop, width: L.panelW, height: L.stripH,
          background: '#D9D9D9', color: '#1A1A1A', fontSize: 30,
          display: 'flex', alignItems: 'center', justifyContent: 'center', whiteSpace: 'nowrap',
        }}
      >
        {name}
      </div>

      <div style={{ position: 'absolute', left: left - (showY ? L.yAxisW : 0), top: stripTop + L.stripH - padTop }}>
        <ComposedChart
          width={L.panelW + (showY ? L.yAxisW : 0)}
          height={L.panelH + (showX ? L.xAxisH : 0) + padTop + padBottom}
          margin={{ top: padTop, right: 0, bottom: padBottom, left: 0 }}
        >
          <CartesianGrid
            fill="#EBEBEB" fillOpacity={1} stroke="#FFFFFF" strokeWidth={2.4}
            horizontalValues={yMinorValues} verticalValues={xMinorValues}
          />
          <CartesianGrid
            stroke="#FFFFFF" strokeWidth={4.8}
            horizontalValues={yTickValues} verticalValues={xTickValues}
          />
          <XAxis
            type="number" dataKey="x" domain={X_DOMAIN} allowDataOverflow
            ticks={xTickValues} interval={0}
            tickFormatter={(v: number) => xTickLabels[xTickValues.indexOf(v)]}
            hide={!showX} height={L.xAxisH}
            axisLine={false} tickLine={{ stroke: '#333333', strokeWidth: 2 }}
            tickSize={9.4} tickMargin={6}
            tick={{ fill: '#4D4D4D', fontSize: 16 }}
          />
          <YAxis
            type="number" dataKey="y" domain={Y_DOMAIN} allowDataOverflow
            ticks={yTickValues} interval={0}
            tickFormatter={(v: number) => v.toFixed(2)}
            hide={!showY} width={L.yAxisW}
            axisLine={false} tickLine={{ stroke: '#333333', strokeWidth: 2 }}
            tickSize={9.4} tickMargin={7}
            tick={{ fill: '#4D4D4D', fontSize: 26 }}
          />
          <ReferenceLine y={0.5} stroke="#000000" strokeWidth={3.2} strokeDasharray="3.2 9.6" />
          <Scatter data={points} dataKey="y" shape={renderDot} isAnimationActive={false} />
          {band && (
            <Area
              data={band} dataKey="band" type="linear" stroke="none"
              fill="#999999" fillOpacity={0.4} isAnimationActive={false}
            />
          )}
          <Line
            data={fit} dataKey="y" type="monotone" dot={false} activeDot={false}
            stroke={lineColor} strokeWidth={3.5} isAnimationActive={false}
          />
        </ComposedChart>
      </div>
    </>
  );
}

export default function App() {
  return (
    <div
      style={{
        position: 'absolute', left: 0, top: 0, width: 4096, height: 2048,
        background: '#FFFFFF', fontFamily: FONT, overflow: 'hidden',
      }}
    >
      <div style={{ position: 'absolute', left: L.panelLeft, top: 12, fontSize: 46, lineHeight: '50px', color: '#000000', whiteSpace: 'nowrap' }}>
        21K (Omicron) growth by country
      </div>
      <div
        style={{
          position: 'absolute', left: 35, top: 1040, fontSize: 38, color: '#000000', whiteSpace: 'nowrap',
          transform: 'translate(-50%, -50%) rotate(-90deg)',
        }}
      >
        Proportion
      </div>
      {countries.map((c, i) => (
        <Panel key={c} index={i} />
      ))}
    </div>
  );
}
